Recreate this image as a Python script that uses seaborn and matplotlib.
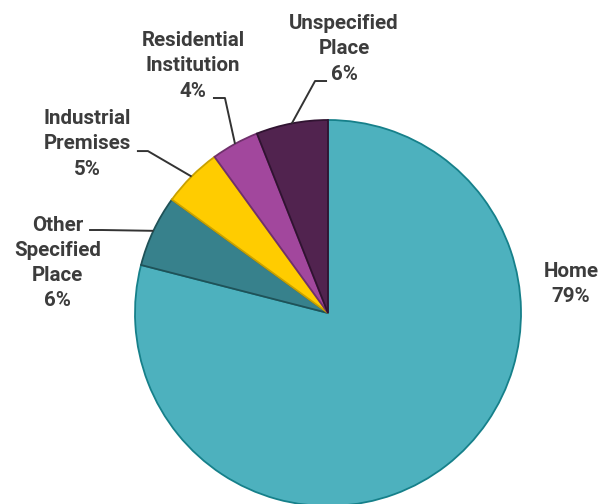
import numpy as np
import matplotlib
matplotlib.use("Agg")
import matplotlib.pyplot as plt
import seaborn as sns

sns.set_theme(style="white")
plt.rcParams['font.family'] = ['Roboto', 'DejaVu Sans']

# Place of occurrence shares (percent), clockwise from 12 o'clock
places = ["Home", "Other\nSpecified\nPlace", "Industrial\nPremises",
          "Residential\nInstitution", "Unspecified\nPlace"]
shares = [79, 6, 5, 4, 6]
fills = ["#4DB1BE", "#37818C", "#FFCC00", "#A2479D", "#51234F"]
edges = ["#16808A", "#1F5258", "#C9A100", "#70306C", "#301331"]

# Label anchor (text centre) and leader-line path of each label, in axes units
label_xy = [(1.259, 0.150), (-1.402, 0.259), (-1.246, 0.876), (-0.699, 1.280), (0.083, 1.368)]
start_xy = [None, (-1.238, 0.430), (-0.99, 0.839), (-0.596, 1.114), (-0.005, 1.202)]
elbow_xy = [None, (-1.17, 0.430), (-0.933, 0.839), (-0.534, 1.114), (-0.067, 1.202)]

fig = plt.figure(figsize=(6.14, 5.04), dpi=100)
ax = fig.add_axes([0, 0, 1, 1])

wedges, _ = ax.pie(shares, colors=fills, startangle=90, counterclock=False,
                   radius=1.0, center=(0, 0),
                   wedgeprops=dict(linewidth=1.3))
for w, ec in zip(wedges, edges):
    w.set_edgecolor(ec)

text_color = "#3C3C3C"
for i, (name, val, w) in enumerate(zip(places, shares, wedges)):
    tx, ty = label_xy[i]
    ax.text(tx, ty, f"{name}\n{val}%", ha="center", va="center",
            fontsize=14.8, fontweight="bold", color=text_color,
            linespacing=1.42)
    if elbow_xy[i] is not None:
        mid = np.deg2rad((w.theta1 + w.theta2) / 2)
        rim = (np.cos(mid), np.sin(mid))
        xs = [start_xy[i][0], elbow_xy[i][0], rim[0]]
        ys = [start_xy[i][1], elbow_xy[i][1], rim[1]]
        ax.plot(xs, ys, color="#333333", linewidth=1.4, solid_capstyle="butt")

ax.set_xlim(-328 / 193, (614 - 328) / 193)
ax.set_ylim(-(504 - 313) / 193, 313 / 193)
ax.set_aspect("equal")
ax.axis("off")

fig.savefig("out.png", dpi=100, facecolor="white")
